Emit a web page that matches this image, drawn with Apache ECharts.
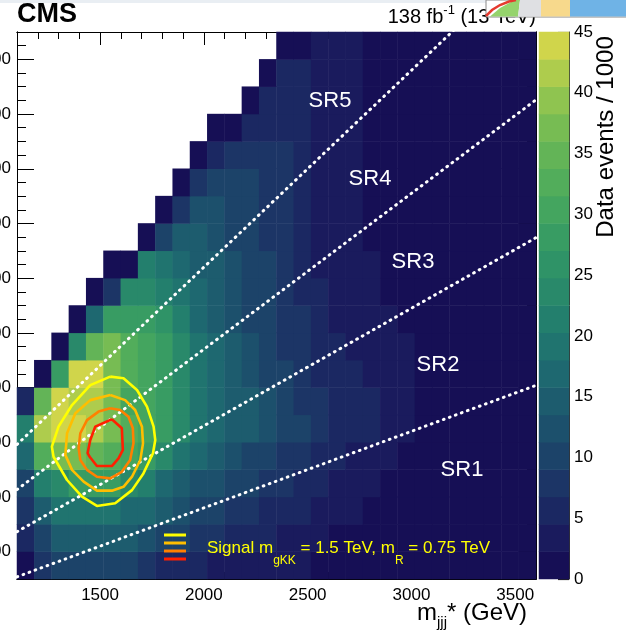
<!DOCTYPE html>
<html>
<head>
<meta charset="utf-8">
<title>Data events m_jj vs m_jjj*</title>
<script src="https://cdn.jsdelivr.net/npm/echarts@6.0.0/dist/echarts.min.js"></script>
<style>
  html, body { margin: 0; padding: 0; background: #fff; }
  #chart { width: 626px; height: 634px; }
</style>
</head>
<body>
<div id="chart"></div>
<script>
// 30 bins in m_jjj* (1100 - 3600 GeV), 20 bins in m_jj (300 - 2300 GeV)
var _ = null
var xRange = [1100, 3600]
var yRange = [300, 2300]

// data events / 1000, one row per m_jj bin, bottom row first
var counts = [
    [2, 7, 9.5, 10.5, 10.5, 10, 9.5, 8, 6, 5.5, 5, 4, 3, 2.5, 2.5, 2.5, 2.5, 1, 1, 1, 1, 1, 1, 1, 1, 1, 1, 1, 1, 1],
    [5, 10.5, 15, 15, 15, 15, 14, 12, 11, 9.5, 8, 7, 6, 5.5, 5, 4, 3, 2.5, 1, 1, 1, 1, 1, 1, 1, 1, 1, 1, 1, 1],
    [7, 15, 20, 20, 20, 19, 17.5, 16, 14, 13, 11, 9.5, 8, 7, 6, 5.5, 5, 4, 3.5, 3, 1, 1, 1, 1, 1, 1, 1, 1, 1, 1],
    [10, 21, 24, 28, 28, 27, 24, 21, 17, 15, 13, 12, 11, 9.5, 8, 7, 5.5, 5.5, 4, 3.5, 3.5, 1, 1, 1, 1, 1, 1, 1, 1, 1],
    [16, 33.5, 36, 36, 35.5, 33.5, 31, 28, 24, 18, 16, 15, 13, 11, 9.5, 8, 7, 5.5, 4.5, 4, 4, 3.5, 1.5, 1, 1, 1, 1, 1, 1, 1],
    [21, 42, 44, 44, 42.5, 36, 33, 31, 27, 23, 19, 17, 15, 14, 12, 10.5, 9.5, 7, 5.5, 5, 4.5, 4, 4, 1.5, 1, 1, 1, 1, 1, 1],
    [6, 35.5, 44, 42.5, 41, 37.5, 31, 30, 27, 24, 19, 17, 15, 14, 12, 10.5, 8, 7, 5.5, 5, 4.5, 4, 4, 1, 1, 1, 1, 1, 1, 1],
    [_, 1, 28, 43, 43, 37.5, 33.5, 31, 27, 24, 18, 17, 15, 13, 10.5, 9.5, 8, 6.5, 5, 4.5, 4, 4, 4, 1, 1, 1, 1, 1, 1, 1],
    [_, _, 1, 24, 35.5, 36, 33, 31, 28, 24, 18, 16, 14, 12, 10.5, 8, 7.5, 6, 4.5, 4, 4, 4, 3.5, 1, 1, 1, 1, 1, 1, 1],
    [_, _, _, 1, 16, 29, 29, 28, 25, 21, 17, 15, 13, 11, 9.5, 8, 7, 5.5, 4, 4, 3.5, 3.5, 1, 1, 1, 1, 1, 1, 1, 1],
    [_, _, _, _, 1, 7.5, 24, 24, 20.5, 18, 16, 15, 13, 11, 9.5, 8, 6.5, 5, 3.5, 3, 3, 1, 1, 1, 1, 1, 1, 1, 1, 1],
    [_, _, _, _, _, 1, 2, 20.5, 20, 17, 15, 13.5, 13, 10.5, 9.5, 8, 6.5, 4, 3, 3, 3, 1, 1, 1, 1, 1, 1, 1, 1, 1],
    [_, _, _, _, _, _, _, 1, 11, 15, 15, 13, 11, 9.5, 8, 7, 6, 4, 3, 3, 1, 1, 1, 1, 1, 1, 1, 1, 1, 1],
    [_, _, _, _, _, _, _, _, 1, 8, 13, 12.5, 11, 9.5, 8, 7, 6, 3.5, 3, 3, 1, 1, 1, 1, 1, 1, 1, 1, 1, 1],
    [_, _, _, _, _, _, _, _, _, 1, 8, 10.5, 10.5, 9.5, 8, 7, 6, 3.5, 3, 3, 1, 1, 1, 1, 1, 1, 1, 1, 1, 1],
    [_, _, _, _, _, _, _, _, _, _, 1, 5, 7.5, 8, 7.5, 7, 6, 3.5, 3, 3, 1, 1, 1, 1, 1, 1, 1, 1, 1, 1],
    [_, _, _, _, _, _, _, _, _, _, _, 1, 1, 6.5, 6.5, 6.5, 5.5, 3, 3, 3, 1, 1, 1, 1, 1, 1, 1, 1, 1, 1],
    [_, _, _, _, _, _, _, _, _, _, _, _, _, 1, 6, 6, 5.5, 3, 3, 3, 1, 1, 1, 1, 1, 1, 1, 1, 1, 1],
    [_, _, _, _, _, _, _, _, _, _, _, _, _, _, 1, 5, 5, 3, 3, 3, 1, 1, 1, 1, 1, 1, 1, 1, 1, 1],
    [_, _, _, _, _, _, _, _, _, _, _, _, _, _, _, 1, 1, 3, 3, 3, 1, 1, 1, 1, 1, 1, 1, 1, 1, 1]
]

var xMajorTicks = [1500, 2000, 2500, 3000, 3500]
var xMinorTicks = [1100, 1200, 1300, 1400, 1500, 1600, 1700, 1800, 1900, 2000, 2100, 2200, 2300,
    2400, 2500, 2600, 2700, 2800, 2900, 3000, 3100, 3200, 3300, 3400, 3500, 3600]
var yMajorTicks = [400, 600, 800, 1000, 1200, 1400, 1600, 1800, 2000, 2200]
var yMinorTicks = [300, 350, 400, 450, 500, 550, 600, 650, 700, 750, 800, 850, 900, 950, 1000,
    1050, 1100, 1150, 1200, 1250, 1300, 1350, 1400, 1450, 1500, 1550, 1600, 1650, 1700, 1750,
    1800, 1850, 1900, 1950, 2000, 2050, 2100, 2150, 2200, 2250, 2300]

// colour levels of the palette (20 contours)
var levels = [0, 2.25, 4.5, 6.75, 9, 11.25, 13.5, 15.75, 18, 20.25, 22.5, 24.75, 27, 29.25,
    31.5, 33.75, 36, 38.25, 40.5, 42.75, 45]
var levelColors = ['#160f55', '#1a1b5d', '#1b2862', '#1c3566', '#1c4369', '#1c506c', '#1d5c6e',
    '#1e6870', '#20746f', '#237f6d', '#29896a', '#2f9367', '#389c63', '#44a55f', '#52ad5b',
    '#63b457', '#77bc53', '#8fc450', '#aecc4d', '#d0d54b']

// SR boundaries m_jj / m_jjj*
var srRatios = [0.28, 0.43, 0.57, 0.72]
var srLabels = ['SR1', 'SR2', 'SR3', 'SR4', 'SR5']

// signal contours (m_jjj*, m_jj) in GeV, outer to inner
var sigOuter = [[1549, 1040], [1613, 1034], [1678, 991], [1726, 930], [1758, 857], [1766, 808],
    [1755, 760], [1709, 686], [1654, 625], [1573, 577], [1485, 567], [1413, 601], [1341, 662],
    [1276, 747], [1268, 784], [1300, 857], [1365, 936], [1453, 1009]]
var sigSecond = [[1549, 973], [1621, 954], [1669, 918], [1702, 857], [1707, 796], [1694, 735],
    [1654, 674], [1613, 637], [1557, 623], [1485, 623], [1421, 656], [1365, 699], [1333, 753],
    [1341, 833], [1381, 906], [1453, 954]]
var sigThird = [[1549, 924], [1597, 918], [1637, 893], [1658, 851], [1661, 796], [1645, 735],
    [1605, 692], [1549, 668], [1485, 674], [1437, 699], [1405, 735], [1397, 778], [1405, 833],
    [1437, 881], [1493, 912]]
var sigInner = [[1557, 884], [1605, 851], [1610, 772], [1589, 741], [1557, 713], [1485, 713],
    [1450, 747], [1440, 760], [1453, 808], [1477, 857]]
var sigColors = ['#ffff00', '#ffbe00', '#ff8000', '#ff2000']

var font = '"Liberation Sans", Arial, Helvetica, sans-serif'

var heatData = []
counts.forEach(function (row, r) {
    row.forEach(function (v, c) {
        if (v !== null) heatData.push([c, r, v])
    })
})
var barData = []
for (var i = 0; i < levels.length - 1; i++) {
    barData.push([0, i, (levels[i] + levels[i + 1]) / 2])
}
var pieces = levelColors.map(function (col, i) {
    var p = { gte: levels[i], color: col }
    if (i < levelColors.length - 1) p.lt = levels[i + 1]
    else p.lte = levels[i + 1]
    return p
})

function plain(v) {
    return String(v)
}

function frameAxis(pos, range, ticks, len, withLabels, margin) {
    return {
        type: 'value', gridIndex: 0, position: pos, min: range[0], max: range[1],
        axisLine: { show: true, lineStyle: { color: '#000', width: 1 } },
        axisTick: { show: true, inside: true, length: len, customValues: ticks, lineStyle: { color: '#000', width: 1 } },
        axisLabel: withLabels
            ? { show: true, customValues: ticks, formatter: plain, color: '#000', fontSize: 17, fontFamily: font, margin: margin }
            : { show: false },
        splitLine: { show: false }
    }
}

function closed(pts) {
    return pts.concat([pts[0]])
}

var srSeries = srRatios.map(function (k) {
    return {
        type: 'line', xAxisIndex: 1, yAxisIndex: 1, symbol: 'none', silent: true, clip: true, z: 5,
        data: [[xRange[0], k * xRange[0]], [xRange[1], k * xRange[1]]],
        lineStyle: { color: '#fff', width: 3, type: [0.8, 5.6], cap: 'round' }
    }
})
var sigSeries = [sigOuter, sigSecond, sigThird, sigInner].map(function (pts, i) {
    return {
        type: 'line', xAxisIndex: 1, yAxisIndex: 1, symbol: 'none', silent: true, clip: true, z: 6,
        data: closed(pts),
        lineStyle: { color: sigColors[i], width: 2.6 }
    }
})

var srPos = [[462, 470], [438, 365], [413, 262], [370, 179], [330, 101]]
var graphics = srLabels.map(function (t, i) {
    return {
        type: 'text', x: srPos[i][0], y: srPos[i][1], z: 100,
        style: { text: t, fill: '#fff', font: '22px ' + font, align: 'center', verticalAlign: 'middle' }
    }
})
sigColors.forEach(function (col, i) {
    graphics.push({
        type: 'line', z: 100,
        shape: { x1: 164, y1: 535 + i * 8, x2: 186, y2: 535 + i * 8 },
        style: { stroke: col, lineWidth: 3 }
    })
})
graphics.push(
    {
        type: 'text', x: 207, y: 548, z: 100,
        style: {
            text: 'Signal m{sub|gKK} = 1.5 TeV, m{sub|R} = 0.75 TeV',
            fill: '#ffff00', font: '17px ' + font, align: 'left', verticalAlign: 'middle',
            rich: { sub: { fontSize: 12, fontFamily: font, fill: '#ffff00', padding: [26, 0, 0, 0] } }
        }
    },
    {
        type: 'text', x: 527, y: 613, z: 100,
        style: {
            text: 'm{sub|jjj}* (GeV)', fill: '#000', font: '24px ' + font, align: 'right', verticalAlign: 'middle',
            rich: { sub: { fontSize: 15, fontFamily: font, fill: '#000', padding: [20, 0, 0, 0] } }
        }
    },
    {
        type: 'text', x: 606, y: 137, z: 100, rotation: Math.PI / 2,
        style: { text: 'Data events / 1000', fill: '#000', font: '24px ' + font, align: 'center', verticalAlign: 'middle' }
    },
    {
        type: 'text', x: 17, y: 15, z: 100,
        style: { text: 'CMS', fill: '#000', font: 'bold 27px ' + font, align: 'left', verticalAlign: 'middle' }
    },
    {
        type: 'text', x: 536, y: 17, z: 100,
        style: {
            text: '138 fb{sup|-1} (13 TeV)', fill: '#000', font: '20px ' + font, align: 'right', verticalAlign: 'middle',
            rich: { sup: { fontSize: 13, fontFamily: font, fill: '#000', padding: [0, 0, 14, 0] } }
        }
    },
    // strip and image fragment overlapping the top of the screenshot
    { type: 'rect', z: 90, shape: { x: 0, y: 0, width: 626, height: 3 }, style: { fill: '#e9eef3' } },
    { type: 'rect', z: 110, shape: { x: 486, y: 0, width: 141, height: 17 }, style: { fill: '#fff', stroke: '#8a8a8a', lineWidth: 1 } },
    { type: 'polygon', z: 111, shape: { points: [[490, 16.5], [500, 8], [511, 2], [516, 0], [520, 0], [518, 16.5]] }, style: { fill: '#95d36c' } },
    { type: 'polygon', z: 111, shape: { points: [[518, 16.5], [520, 0], [541, 0], [541, 16.5]] }, style: { fill: '#dfe0e3' } },
    { type: 'rect', z: 111, shape: { x: 541, y: 0, width: 29, height: 16.5 }, style: { fill: '#f7d98c' } },
    { type: 'rect', z: 111, shape: { x: 570, y: 0, width: 56, height: 16.5 }, style: { fill: '#6fb3e6' } },
    { type: 'polyline', z: 112, shape: { points: [[486, 16], [492, 10], [500, 5], [509, 1.5], [516, 0]] }, style: { stroke: '#e53a2e', lineWidth: 2.5, fill: null } }
)

var myChart = echarts.init(document.getElementById('chart'), null, { renderer: 'canvas' })
var option = {
    animation: false,
    backgroundColor: '#fff',
    textStyle: { fontFamily: font },
    grid: [
        { left: 17, top: 32, width: 519, height: 547, containLabel: false, outerBoundsMode: 'none' },
        { left: 539, top: 32, width: 30, height: 547, containLabel: false, outerBoundsMode: 'none' }
    ],
    xAxis: [
        { type: 'category', gridIndex: 0, show: false, data: counts[0].map(function (v, c) { return c }) },
        frameAxis('bottom', xRange, xMajorTicks, 13, true, 8),
        frameAxis('bottom', xRange, xMinorTicks, 7, false),
        frameAxis('top', xRange, xMajorTicks, 13, false),
        frameAxis('top', xRange, xMinorTicks, 7, false),
        { type: 'category', gridIndex: 1, show: false, data: [0] }
    ],
    yAxis: [
        { type: 'category', gridIndex: 0, show: false, data: counts.map(function (row, r) { return r }) },
        frameAxis('left', yRange, yMajorTicks, 17, true, 6),
        frameAxis('left', yRange, yMinorTicks, 9, false),
        frameAxis('right', yRange, yMajorTicks, 17, false),
        frameAxis('right', yRange, yMinorTicks, 9, false),
        { type: 'category', gridIndex: 1, show: false, data: barData.map(function (d) { return d[1] }) },
        {
            type: 'value', gridIndex: 1, position: 'right', min: 0, max: 45, interval: 5,
            axisLine: { show: true, lineStyle: { color: '#333', width: 1 } },
            axisTick: { show: true, inside: true, length: 11, lineStyle: { color: '#222', width: 1.2 } },
            axisLabel: { color: '#000', fontSize: 17, fontFamily: font, margin: 5 },
            splitLine: { show: false }
        }
    ],
    visualMap: {
        type: 'piecewise', show: false, seriesIndex: [0, 1], dimension: 2, pieces: pieces
    },
    series: [
        {
            type: 'heatmap', xAxisIndex: 0, yAxisIndex: 0, data: heatData, silent: true,
            emphasis: { disabled: true }, itemStyle: { borderWidth: 0 }, progressive: 0
        },
        {
            type: 'heatmap', xAxisIndex: 5, yAxisIndex: 5, data: barData, silent: true,
            emphasis: { disabled: true }, itemStyle: { borderWidth: 0 }
        }
    ].concat(srSeries, sigSeries),
    graphic: graphics
}
myChart.setOption(option)
</script>
</body>
</html>
